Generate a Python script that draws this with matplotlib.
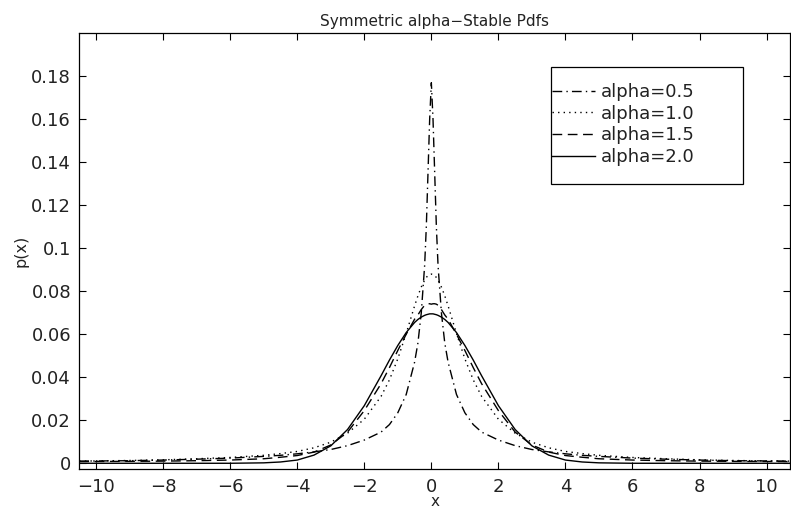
import matplotlib
matplotlib.use("Agg")
import matplotlib.pyplot as plt
from matplotlib.patches import Rectangle

# sample positions (shared by all four curves)
x = [-10.5, -9, -8, -7, -6, -5, -4.5, -4, -3.5, -3, -2.5, -2, -1.5, -1.25, -1,
     -0.75, -0.5, -0.4, -0.3, -0.2, -0.15, -0.1, -0.05, 0,
     0.05, 0.1, 0.15, 0.2, 0.3, 0.4, 0.5, 0.75, 1, 1.25, 1.5, 2, 2.5, 3, 3.5,
     4, 4.5, 5, 6, 7, 8, 9, 10.7]

# one half (x <= 0), curves are symmetric
half_a05 = [0.0010, 0.0012, 0.0015, 0.0019, 0.0024, 0.0032, 0.0037, 0.0044,
            0.0053, 0.0064, 0.0082, 0.0108, 0.0145, 0.0180, 0.0235, 0.032,
            0.047, 0.056, 0.070, 0.092, 0.110, 0.135, 0.160, 0.177]
half_a10 = [0.0010, 0.0013, 0.0016, 0.0021, 0.0027, 0.0037, 0.0045, 0.0055,
            0.0072, 0.0098, 0.0140, 0.0205, 0.0311, 0.0388, 0.0486, 0.0604,
            0.0732, 0.0779, 0.0820, 0.0852, 0.0864, 0.0874, 0.0878, 0.0880]
half_a15 = [0.0008, 0.0009, 0.0010, 0.0012, 0.0015, 0.0021, 0.0028, 0.0036,
            0.0052, 0.0085, 0.0145, 0.0245, 0.0370, 0.0445, 0.0525, 0.0600,
            0.0670, 0.0690, 0.0715, 0.0735, 0.0740, 0.0742, 0.0742, 0.0740]
half_a20 = [0.0, 0.0, 0.0, 0.0, 0.0, 0.0002, 0.0006, 0.0015,
            0.0038, 0.0081, 0.0157, 0.0268, 0.0407, 0.0480, 0.0548, 0.0608,
            0.0655, 0.0669, 0.0680, 0.0688, 0.0691, 0.0693, 0.0695, 0.0695]

labels = ['alpha=0.5', 'alpha=1.0', 'alpha=1.5', 'alpha=2.0']
xticks = [-10, -8, -6, -4, -2, 0, 2, 4, 6, 8, 10]
yticks = [0, 0.02, 0.04, 0.06, 0.08, 0.1, 0.12, 0.14, 0.16, 0.18]
yticklabels = ['0', '0.02', '0.04', '0.06', '0.08', '0.1', '0.12', '0.14', '0.16', '0.18']


def mirror(half):
    return half + half[-2::-1]


curves = [mirror(half_a05), mirror(half_a10), mirror(half_a15), mirror(half_a20)]
styles = [(0, (7, 3, 1, 3)), (0, (1, 3)), (0, (7, 4)), '-']

plt.rcParams['font.family'] = ['DejaVu Sans']
ink = '#222222'

fig = plt.figure(figsize=(7.91, 5.13), dpi=100)
ax = fig.add_axes([0.1003, 0.0852, 0.8985, 0.8499])

for y, ls, lab in zip(curves, styles, labels):
    ax.plot(x, y, color='black', linestyle=ls, linewidth=1.0, label=lab)

ax.set_xlim(-10.5, 10.7)
ax.set_ylim(-0.0028, 0.2)
ax.set_xticks(xticks)
ax.set_xticklabels([str(t).replace('-', '\u2212') for t in xticks])
ax.set_yticks(yticks)
ax.set_yticklabels(yticklabels)
ax.tick_params(direction='in', length=5, width=0.8, top=True, right=True,
               labelsize=13, pad=6, labelcolor=ink)
for s in ax.spines.values():
    s.set_linewidth(0.9)

ax.set_title('Symmetric alpha\u2212Stable Pdfs', fontsize=11, pad=5, color=ink)
ax.set_xlabel('x', fontsize=11, labelpad=-1, color=ink)
ax.set_ylabel('p(x)', fontsize=11.5, color=ink)
ax.yaxis.set_label_coords(-0.071, 0.5)

# legend box drawn by hand, MATLAB style (wide right padding)
ax.add_patch(Rectangle((0.663, 0.6544), 0.2713, 0.269, transform=ax.transAxes,
                       fill=True, facecolor='white', edgecolor='black',
                       linewidth=0.9, zorder=4))
leg = ax.legend(loc='upper left', bbox_to_anchor=(0.6651, 0.886), borderaxespad=0,
                fontsize=13, handlelength=2.4, handletextpad=0.28, labelspacing=0.2,
                borderpad=0, frameon=False)
leg.set_zorder(5)
for t in leg.get_texts():
    t.set_color(ink)

fig.savefig('out.png', dpi=100)
